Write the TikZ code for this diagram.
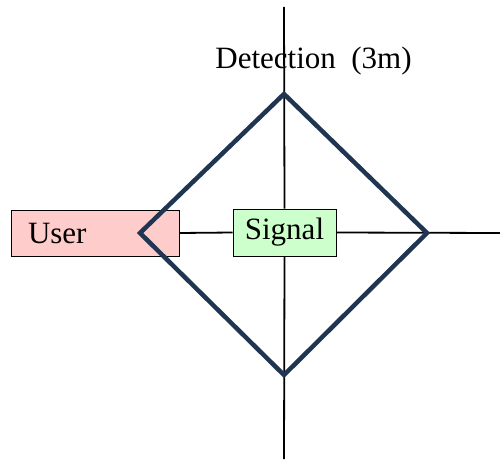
\documentclass[tikz,border=0pt]{standalone}
\usepackage{fontspec}
\setmainfont{Liberation Serif}
\usetikzlibrary{positioning}
\definecolor{userpink}{HTML}{FFCCCC}
\definecolor{siggreen}{HTML}{CCFFCC}
\definecolor{navy}{HTML}{1F3552}

\begin{document}
\begin{tikzpicture}[x=1pt, y=1pt,
box/.style={rectangle, draw=black, line width=0.6pt, inner sep=0pt, font=\fontsize{31}{32}\selectfont},
axis/.style={line width=1.8pt},
detzone/.style={draw=navy, line width=4.5pt, line join=miter}]
\tikzstyle{lbl}=[font=\fontsize{31}{32}\selectfont, inner sep=0pt]
 \def\cx{284}
 \def\cy{226}
\useasboundingbox (0,0) rectangle (500,459);
%axes
\coordinate (top) at (\cx,452);
\coordinate (bot) at (\cx,0);
\coordinate (far) at (500,\cy);
%boxes
\node[box, fill=userpink, minimum width=168pt, minimum height=46pt, text width=134pt] (user) at (95,\cy) {User};
\node[box, fill=siggreen, minimum width=103pt, minimum height=47pt] (signal) at (284.5,226.5) {Signal};
\draw[axis] (top) -- (signal.north);
\draw[axis] (signal.south) -- (bot);
\draw[axis] (user.east) -- (signal.west);
\draw[axis] (signal.east) -- (far);
%detection zone
\coordinate (dn) at (\cx,365);
\coordinate (de) at (427,\cy);
\coordinate (ds) at (\cx,84);
\coordinate (dw) at (140,\cy);
\draw[detzone] (dn) -- (de) -- (ds) -- (dw) -- cycle;
\node[lbl, anchor=base] (det) at (313.5,391) {Detection\ \ (3m)};
\end{tikzpicture}
\end{document}
